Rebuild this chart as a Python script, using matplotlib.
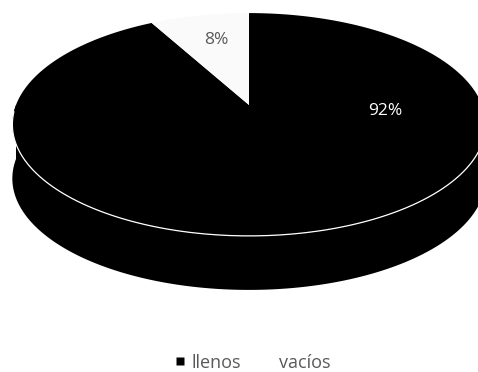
import numpy as np
import matplotlib
matplotlib.use("Agg")
import matplotlib.pyplot as plt
from matplotlib.patches import Polygon
from matplotlib.lines import Line2D

# porcentaje de envases
labels = ["llenos", "vacíos"]
shares = [92, 8]
colors = ["#000000", "#fafafa"]
label_colors = ["white", "#595959"]

plt.rcParams['font.family'] = ['Open Sans', 'DejaVu Sans']

# proyección del disco en perspectiva (pixeles)
cx, cy = 249, 105
rx, ry = 233, 108
k = 0.175
depth = 54


def project(theta, r=1.0):
    u = r * np.cos(theta)
    v = r * np.sin(theta)
    s = 1 + k * v
    return cx + rx * u / s, cy - ry * v / s


fig = plt.figure(figsize=(4.78, 3.72), dpi=100)
ax = fig.add_axes([0, 0, 1, 1])
ax.set_xlim(0, 478)
ax.set_ylim(372, 0)
ax.axis("off")

# lateral del cilindro (mitad frontal)
t = np.linspace(np.pi, 2 * np.pi, 200)
xs, ys = project(t)
side = np.concatenate([np.column_stack([xs, ys]),
                       np.column_stack([xs[::-1], ys[::-1] + depth])])
ax.add_patch(Polygon(side, closed=True, facecolor="#000000", edgecolor="none"))

# tapa superior: las porciones arrancan a las 12 en sentido horario
total = float(sum(shares))
angles = [np.pi / 2]
for val in shares:
    angles.append(angles[-1] - 2 * np.pi * val / total)

label_pos = [(385, 111), (216, 40)]
for i, val in enumerate(shares):
    a0, a1 = angles[i], angles[i + 1]
    tt = np.linspace(a0, a1, 300)
    px, py = project(tt)
    pts = np.vstack([[cx, cy], np.column_stack([px, py])])
    ax.add_patch(Polygon(pts, closed=True, facecolor=colors[i], edgecolor="none"))
    lx, ly = label_pos[i]
    ax.text(lx, ly, f"{val}%", color=label_colors[i], fontsize=12.5,
            ha="center", va="center")

# borde frontal de la tapa
te = np.linspace(np.pi * 1.02, np.pi * 1.98, 200)
ex, ey = project(te)
ax.plot(ex, ey, color="white", lw=0.9)

handles = [Line2D([], [], ls="none", marker="s", markersize=5.5,
                  markerfacecolor=colors[0], markeredgecolor="none"),
           Line2D([], [], ls="none", marker="s", markersize=5.5,
                  markerfacecolor="white", markeredgecolor="none")]
leg = ax.legend(handles, labels, loc="center", bbox_to_anchor=(0.53, 0.025),
                bbox_transform=ax.transAxes, ncol=2, frameon=False,
                fontsize=13, handlelength=0.45, handletextpad=0.4,
                columnspacing=1.3, labelcolor="#595959")

fig.savefig("out.png", dpi=100)
